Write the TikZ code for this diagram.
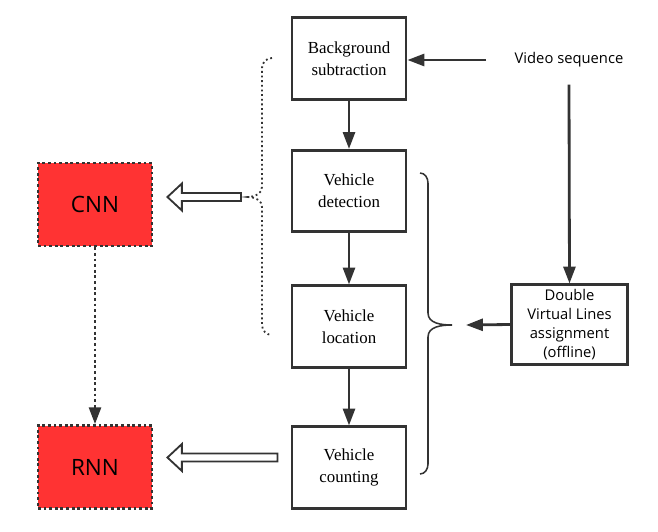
\documentclass[tikz,border=0pt]{standalone}
\usepackage{fontspec}
\setmainfont{Liberation Serif}
\newfontfamily\uisans{Open Sans}
\usetikzlibrary{arrows.meta,calc}
\definecolor{linegray}{HTML}{333333}
\definecolor{nnred}{HTML}{FF3333}

\begin{document}
\begin{tikzpicture}[x=0.025cm, y=-0.025cm,
  stage/.style={draw=linegray, line width=2pt, minimum width=2.85cm, minimum height=2.03cm,
    inner sep=0pt, align=center, font=\fontsize{12}{15.5}\selectfont},
  net/.style={draw=linegray, fill=nnred, dotted, line width=2pt, minimum width=2.85cm,
    minimum height=2.07cm, font=\uisans\fontsize{16}{18}\selectfont},
  flow/.style={draw=linegray, line width=2pt, -{Triangle[length=12pt,width=8.5pt]}},
  hollow/.style={draw=linegray, line width=1.3pt, fill=white}]
  \useasboundingbox (0,0) rectangle (658,532);

  % processing chain
  \node[stage] (bg)  at (349,58.5)  {Background\\subtraction};
  \node[stage] (det) at (349,191)   {Vehicle\\detection};
  \node[stage] (loc) at (349,326.5) {Vehicle\\location};
  \node[stage] (cnt) at (349,467.5) {Vehicle\\counting};
  \draw[flow] (bg) -- (det);
  \draw[flow] (det) -- (loc);
  \draw[flow] (loc) -- (cnt);

  % input side
  \node[font=\uisans\fontsize{10.5}{12}\selectfont, inner xsep=20pt, inner ysep=12pt] (video) at (569,60) {Video sequence};
  \node[draw=linegray, line width=2pt, minimum width=2.88cm, minimum height=1.98cm, inner sep=0pt,
    align=center, font=\uisans\fontsize{10.5}{13.5}\selectfont] (dvl) at (569.5,324.5)
    {Double\\Virtual Lines\\assignment\\(offline)};
  \draw[flow] (video.west) -- (video.west -| bg.east);
  \draw[flow] (video.south) -- (dvl.north);

  % braces
  \coordinate (btip) at (452,325);
  \draw[linegray, line width=1.1pt] (420,173) to[out=0,in=90] (428,183) -- (428,313)
    to[out=-90,in=180] (btip) to[out=180,in=90] (428,337) -- (428,464) to[out=-90,in=0] (420,474);
  \draw[flow] (dvl.west) -- ($(btip)+(14,0)$);
  \coordinate (dtip) at (248,197);
  \draw[linegray, dotted, line width=1.3pt] (272,58) to[out=180,in=90] (262,68) -- (262,187)
    to[out=-90,in=0] (dtip) to[out=0,in=90] (262,207) -- (262,325) to[out=-90,in=180] (272,335);

  % networks
  \node[net] (cnn) at (95,204.5) {CNN};
  \node[net] (rnn) at (95,467) {RNN};
  \draw[flow, dotted] (cnn) -- (rnn);

  \coordinate (cnn-out) at ($(dtip)+(-7,0)$);
  \coordinate (cnn-in) at ($(cnn.east |- dtip)+(14,0)$);
  \draw[hollow] let \p1=(cnn-out), \p2=(cnn-in) in
    (\x1,\y2+2.8pt) -- (\x2+10.3pt,\y2+2.8pt) -- (\x2+10.3pt,\y2+9.6pt) -- (\x2,\y2)
    -- (\x2+10.3pt,\y2-9.6pt) -- (\x2+10.3pt,\y2-2.8pt) -- (\x1,\y2-2.8pt) -- cycle;
  \coordinate (rnn-out) at ($(cnt.west)+(-13,-10)$);
  \coordinate (rnn-in) at ($(rnn.east |- rnn-out)+(14,0)$);
  \draw[hollow] let \p1=(rnn-out), \p2=(rnn-in) in
    (\x1,\y2+2.8pt) -- (\x2+10.3pt,\y2+2.8pt) -- (\x2+10.3pt,\y2+9.6pt) -- (\x2,\y2)
    -- (\x2+10.3pt,\y2-9.6pt) -- (\x2+10.3pt,\y2-2.8pt) -- (\x1,\y2-2.8pt) -- cycle;
\end{tikzpicture}
\end{document}
